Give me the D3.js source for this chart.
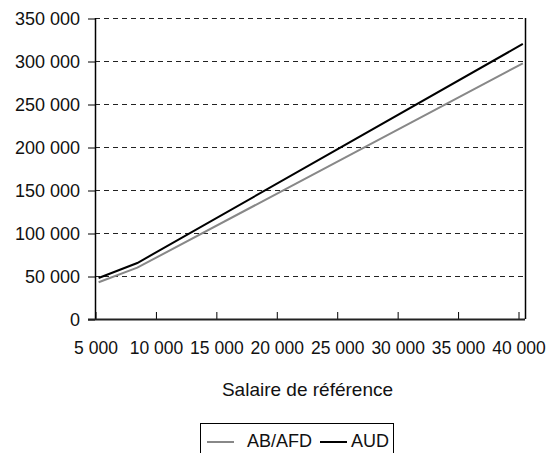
<!DOCTYPE html>
<html>
<head>
<meta charset="utf-8">
<script src="https://cdn.jsdelivr.net/npm/d3@7"></script>
<style>
  body { margin: 0; background: #fff; }
  svg { display: block; font-family: "Liberation Sans", Arial, sans-serif; }
</style>
</head>
<body>
<div id="chart"></div>
<script>
// salary points (x) and the two series
const salaries = [5300, 8500, 40400];
const abAfd = [42700, 59700, 297300];
const aud = [47700, 65100, 319800];
const seriesNames = ["AB/AFD", "AUD"];
const seriesColors = ["#888888", "#000000"];
const xTicks = [5000, 10000, 15000, 20000, 25000, 30000, 35000, 40000];
const yTicks = [0, 50000, 100000, 150000, 200000, 250000, 300000, 350000];
const xTitle = "Salaire de référence";

const width = 547, height = 453;
const plotLeft = 95, plotRight = 525, plotTop = 18, plotBottom = 319;
const fontSize = 18;

const fmt = d => d3.format(",")(d).replace(/,/g, " ");

const svg = d3.select("#chart").append("svg")
    .attr("width", width)
    .attr("height", height);

const x = d3.scaleLinear().domain([5000, 40000]).range([plotLeft, 518]);
const y = d3.scaleLinear().domain([0, 350000]).range([plotBottom, plotTop]);

// dashed gridlines
svg.append("g")
    .selectAll("line")
    .data(yTicks.filter(d => d > 0))
    .join("line")
    .attr("x1", plotLeft).attr("x2", plotRight)
    .attr("y1", d => Math.round(y(d)) + 0.5).attr("y2", d => Math.round(y(d)) + 0.5)
    .attr("stroke", "#222")
    .attr("stroke-width", 1)
    .attr("stroke-dasharray", "5,4");

// y axis
const yAxis = svg.append("g")
    .attr("transform", `translate(${plotLeft},0.5)`)
    .call(d3.axisLeft(y).tickValues(yTicks).tickFormat(fmt).tickSize(7).tickPadding(8));
yAxis.select(".domain").remove();
yAxis.selectAll(".tick line").attr("stroke", "#000");
yAxis.selectAll("text").attr("font-size", fontSize).attr("fill", "#111")
    .attr("font-family", "Liberation Sans, Arial, sans-serif");

// x axis (ticks pointing inward)
const xAxis = svg.append("g")
    .attr("transform", `translate(0.5,${plotBottom})`)
    .call(d3.axisBottom(x).tickValues(xTicks).tickFormat(fmt).tickSize(-7).tickPadding(23));
xAxis.select(".domain").remove();
xAxis.selectAll(".tick line").attr("stroke", "#000");
xAxis.selectAll("text").attr("font-size", 17.5).attr("fill", "#111")
    .attr("font-family", "Liberation Sans, Arial, sans-serif");

// frame lines
svg.append("line").attr("x1", plotLeft + 0.5).attr("x2", plotLeft + 0.5).attr("y1", plotTop).attr("y2", plotBottom)
    .attr("stroke", "#000").attr("stroke-width", 1.5);
svg.append("line").attr("x1", 88).attr("x2", plotRight).attr("y1", plotBottom + 0.5).attr("y2", plotBottom + 0.5)
    .attr("stroke", "#222").attr("stroke-width", 2);
svg.append("line").attr("x1", plotRight + 0.5).attr("x2", plotRight + 0.5).attr("y1", plotTop).attr("y2", plotBottom)
    .attr("stroke", "#000").attr("stroke-width", 1.5);

// series lines
const line = d3.line().x(d => x(d[0])).y(d => y(d[1]));
[abAfd, aud].forEach((vals, i) => {
    svg.append("path")
        .datum(salaries.map((s, j) => [s, vals[j]]))
        .attr("d", line)
        .attr("fill", "none")
        .attr("stroke", seriesColors[i])
        .attr("stroke-width", 2);
});

// axis title
svg.append("text")
    .attr("x", 307.5)
    .attr("y", 396)
    .attr("text-anchor", "middle")
    .attr("font-size", 19)
    .attr("fill", "#111")
    .text(xTitle);

// legend
const legend = svg.append("g");
legend.append("rect")
    .attr("x", 200.5).attr("y", 423.5)
    .attr("width", 193).attr("height", 40)
    .attr("fill", "#fff").attr("stroke", "#000");
const items = [
    { x: 207, tx: 247, name: seriesNames[0], c: seriesColors[0] },
    { x: 320, tx: 351, name: seriesNames[1], c: seriesColors[1] }
];
items.forEach(it => {
    legend.append("line")
        .attr("x1", it.x).attr("x2", it.x + 27)
        .attr("y1", 442).attr("y2", 442)
        .attr("stroke", it.c).attr("stroke-width", 2);
    legend.append("text")
        .attr("x", it.tx).attr("y", 447)
        .attr("font-size", fontSize).attr("fill", "#111")
        .text(it.name);
});
</script>
</body>
</html>
